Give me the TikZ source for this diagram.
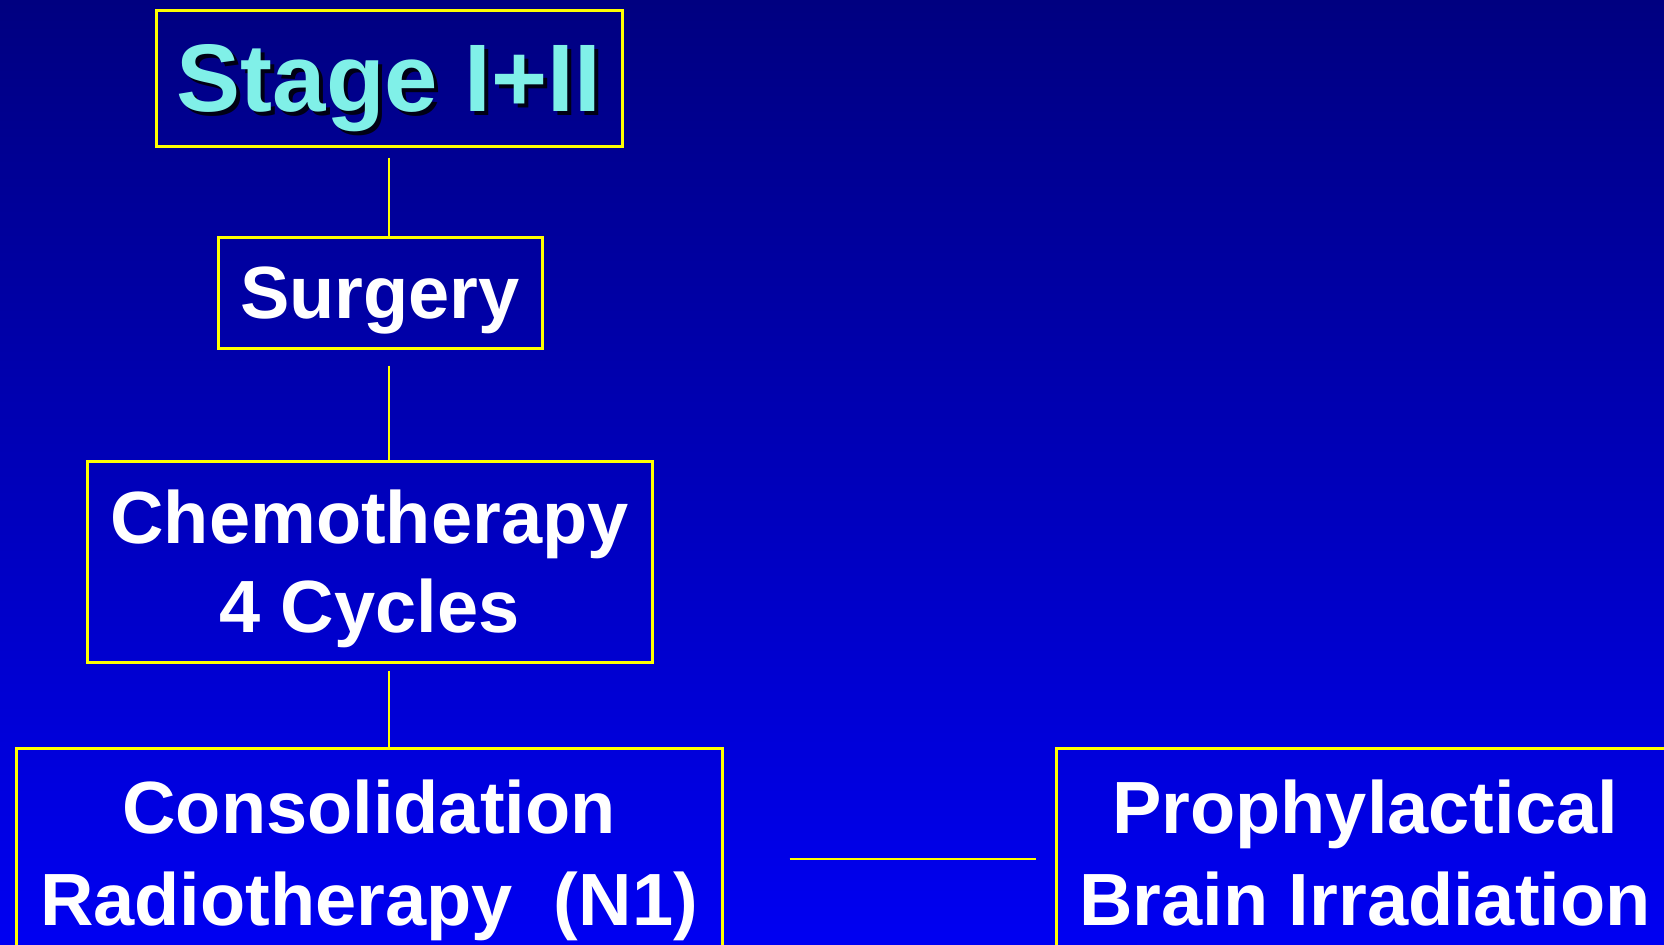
\documentclass[tikz,border=0pt]{standalone}
\usepackage{fontspec}
\setmainfont{Liberation Sans}
\usepackage{tikz}
\usetikzlibrary{positioning}
\usetikzlibrary{calc}
\definecolor{slidetop}{RGB}{0,0,128}
\definecolor{slidemid}{RGB}{0,0,205}
\definecolor{slidebot}{RGB}{0,0,242}
\definecolor{boxyellow}{RGB}{255,255,0}
\definecolor{titlecyan}{RGB}{128,240,232}
\tikzset{box/.style = {draw = boxyellow, line width = 1.5pt, text = white, inner sep = 0,
    align = center, text depth = 0pt, font = \bfseries\fontsize{37}{44.5}\selectfont}}
\tikzset{link/.style = {draw = boxyellow, line width = 1.2pt}}
\tikzset{title/.style = {font = \bfseries\fontsize{48}{56}\selectfont, inner sep = 0, text depth = 0pt}}

\begin{document}
\begin{tikzpicture}[x = 0.5pt, y = -0.5pt]
    \path[use as bounding box, clip] (0, 0) rectangle (1664, 944);
    \shade[top color = slidetop, middle color = slidemid, bottom color = slidebot] (0, 0) rectangle (1664, 944);
    \node[title, text = black, opacity = 0.85] (stageshadow) at (393, 82) {Stage I+II};
    \node[box, title, text = titlecyan, minimum width = 233pt, minimum height = 68pt] (stage) at (389, 78) {Stage I+II};
    \node[box, minimum width = 162pt, minimum height = 55.5pt] (surgery) at (380, 292.5) {Surgery};
    \node[box, minimum width = 282.5pt, minimum height = 100.5pt] (chemo) at (369.5, 561.5) {Chemotherapy\\4 Cycles};
    \node[box, font = \bfseries\fontsize{37}{46}\selectfont, minimum width = 353pt, minimum height = 104.5pt] (consol) at (369, 852.5) {Consolidation\\Radiotherapy\ \ (N1)};
    \node[box, font = \bfseries\fontsize{37}{46}\selectfont, minimum width = 309pt, minimum height = 104.5pt] (pbi) at (1365, 852.5) {Prophylactical\\Brain Irradiation};
    \draw[link, shorten <= 5pt] (stage.south) -- (stage.south |- surgery.north);
    \draw[link, shorten <= 8pt] (stage.south |- surgery.south) -- (stage.south |- chemo.north);
    \draw[link, shorten <= 3.5pt] (stage.south |- chemo.south) -- (stage.south |- consol.north);
    \draw[link, shorten <= 33pt, shorten >= 9.5pt] ([yshift = -3.25pt]consol.east) -- ([yshift = -3.25pt]pbi.west);
\end{tikzpicture}
\end{document}
